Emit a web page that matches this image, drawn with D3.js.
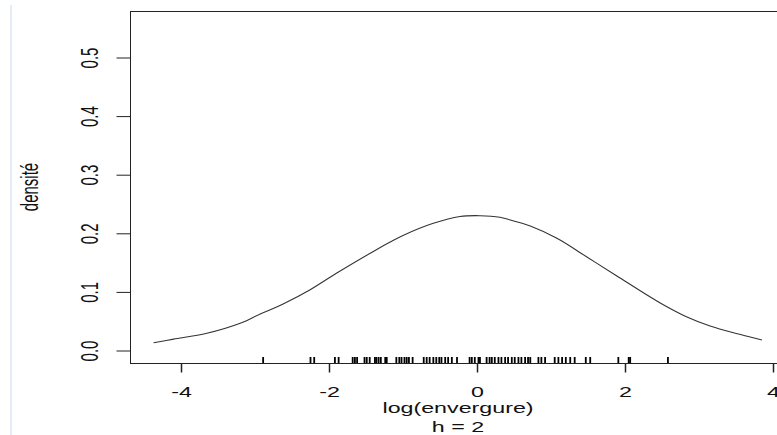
<!DOCTYPE html>
<html>
<head>
<meta charset="utf-8">
<script src="https://cdn.jsdelivr.net/npm/d3@7"></script>
<style>
  html, body { margin: 0; padding: 0; background: #fff; }
  svg { display: block; }
  text { font-family: "Liberation Sans", Arial, sans-serif; fill: #111; }
</style>
</head>
<body>
<svg id="chart" width="777" height="435"></svg>
<script>
// ---- data ----
const densityX = [-4.37, -4.10, -3.65, -3.20, -2.93, -2.80, -2.62, -2.26, -1.90, -1.36, -1.18, -1.00,
                  -0.59, -0.23, 0.04, 0.31, 0.45, 0.72, 1.08, 1.48, 1.89, 2.47, 2.83, 3.15, 3.55, 3.85];
const densityY = [0.0125, 0.0185, 0.0285, 0.0456, 0.0614, 0.0683, 0.0785, 0.1024, 0.1309, 0.1712, 0.1838, 0.1955,
                  0.2162, 0.2278, 0.2292, 0.2265, 0.2218, 0.2116, 0.1906, 0.1592, 0.1263, 0.0807, 0.0568, 0.0410, 0.0268, 0.0171];
const rugValues = [-2.89, -2.25, -2.20, -1.92, -1.87, -1.68, -1.65, -1.62, -1.52, -1.49, -1.45, -1.38, -1.36, -1.33,
                   -1.30, -1.24, -1.22, -1.09, -1.05, -1.02, -0.98, -0.95, -0.92, -0.87, -0.72, -0.68, -0.64, -0.59,
                   -0.55, -0.51, -0.48, -0.43, -0.39, -0.34, -0.27, -0.10, -0.07, -0.03, 0.02, 0.04, 0.13, 0.17,
                   0.20, 0.24, 0.29, 0.33, 0.38, 0.42, 0.47, 0.51, 0.56, 0.60, 0.65, 0.69, 0.72, 0.83, 0.87, 0.92,
                   1.05, 1.10, 1.15, 1.20, 1.26, 1.32, 1.47, 1.53, 1.91, 2.05, 2.07, 2.58];
const xTicks = [-4, -2, 0, 2, 4];
const yTicks = [0.0, 0.1, 0.2, 0.3, 0.4, 0.5];
const xLabel = "log(envergure)";
const subLabel = "h = 2";
const yLabel = "densité";

// ---- layout ----
const svg = d3.select("#chart");
const box = { left: 130, top: 11, right: 786, bottom: 363 };
const stretch = 1.55; // reference is horizontally stretched

const x = d3.scaleLinear().domain([-4, 4]).range([181, 773]);
const y = d3.scaleLinear().domain([0, 0.5]).range([350, 57]);

// faint left border line of the reference page
svg.append("line")
  .attr("x1", 11).attr("x2", 11).attr("y1", 5).attr("y2", 435)
  .attr("stroke", "#dbe6f3").attr("stroke-width", 1.5);

// plot box
svg.append("rect")
  .attr("x", box.left + 0.5).attr("y", box.top + 0.5)
  .attr("width", box.right - box.left).attr("height", box.bottom - box.top)
  .attr("fill", "none").attr("stroke", "#222").attr("stroke-width", 1);

// x axis ticks & labels
const xAxis = d3.axisBottom(x).tickValues(xTicks).tickSize(9).tickFormat(d3.format("d"));
const gx = svg.append("g").attr("transform", `translate(0,${box.bottom + 0.5})`).call(xAxis);
gx.select(".domain").remove();
gx.selectAll(".tick line").attr("stroke", "#222").attr("stroke-width", 1.5);
gx.selectAll(".tick text").remove();
gx.selectAll(".tick").append("text")
  .attr("transform", `translate(0,${396 - box.bottom}) scale(${stretch},1)`)
  .attr("text-anchor", "middle").attr("font-size", 15)
  .text(d => d < 0 ? "-" + Math.abs(d) : d);

// y axis ticks & labels
const yAxis = d3.axisLeft(y).tickValues(yTicks).tickSize(14).tickFormat(d3.format(".1f"));
const gy = svg.append("g").attr("transform", `translate(${box.left + 0.5},0.5)`).call(yAxis);
gy.select(".domain").remove();
gy.selectAll(".tick line").attr("stroke", "#222");
gy.selectAll(".tick text").remove();
gy.selectAll(".tick").append("text")
  .attr("transform", `translate(${97 - box.left},0) scale(${stretch},1) rotate(-90)`)
  .attr("text-anchor", "middle").attr("font-size", 15)
  .text(d => d3.format(".1f")(d));

// axis titles
svg.append("text")
  .attr("transform", `translate(458,413) scale(${stretch},1)`)
  .attr("text-anchor", "middle").attr("font-size", 15).text(xLabel);
svg.append("text")
  .attr("transform", `translate(458,432) scale(${stretch},1)`)
  .attr("text-anchor", "middle").attr("font-size", 15).text(subLabel);
svg.append("text")
  .attr("transform", `translate(38,187) scale(${stretch},1) rotate(-90)`)
  .attr("text-anchor", "middle").attr("font-size", 15).text(yLabel);

// density curve
const pts = densityX.map((v, i) => [v, densityY[i]]);
const line = d3.line().x(d => x(d[0])).y(d => y(d[1])).curve(d3.curveCatmullRom.alpha(0.5));
svg.append("path").datum(pts)
  .attr("d", line).attr("fill", "none")
  .attr("stroke", "#333").attr("stroke-width", 1.1);

// rug
svg.append("g").selectAll("line").data(rugValues).join("line")
  .attr("x1", d => x(d)).attr("x2", d => x(d))
  .attr("y1", box.bottom - 6).attr("y2", box.bottom)
  .attr("stroke", "#000").attr("stroke-width", 1.8);
</script>
</body>
</html>
